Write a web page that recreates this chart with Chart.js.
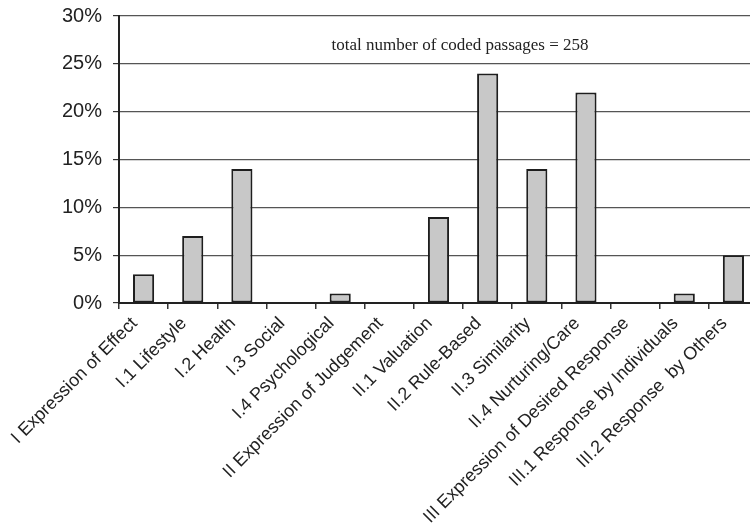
<!DOCTYPE html>
<html>
<head>
<meta charset="utf-8">
<script src="https://cdn.jsdelivr.net/npm/chart.js@4/dist/chart.umd.min.js"></script>
<style>
  html, body { margin: 0; padding: 0; background: #fff; }
  #frame { width: 750px; height: 525px; overflow: hidden; position: relative; }
  #box { width: 760px; height: 525px; position: absolute; left: 0; top: 0; }
</style>
</head>
<body>
<div id="frame"><div id="box"><canvas id="chart"></canvas></div></div>
<script>
// Categories of coded passages
const categories = [
  'I Expression of Effect',
  'I.1 Lifestyle',
  'I.2 Health',
  'I.3 Social',
  'I.4 Psychological',
  'II Expression of Judgement',
  'II.1 Valuation',
  'II.2 Rule-Based',
  'II.3 Similarity',
  'II.4 Nurturing/Care',
  'III Expression of Desired Response',
  'III.1 Response by Individuals',
  'III.2 Response  by Others'
];

// Share of coded passages per category, in percent
const shares = [3, 7, 14, 0, 1, 0, 9, 24, 14, 22, 0, 1, 5];

// Y axis tick values, in percent
const yTicks = [0, 5, 10, 15, 20, 25, 30];

const noteText = 'total number of coded passages = 258';

// Writes the note about the total count inside the plot area
const notePlugin = {
  id: 'note',
  afterDatasetsDraw(chart) {
    const { ctx, scales } = chart;
    const x = (scales.x.getPixelForValue(6) + scales.x.getPixelForValue(7)) / 2 - 3;
    const y = scales.y.getPixelForValue(26.9);
    ctx.save();
    ctx.font = '17px "Liberation Serif", "Times New Roman", serif';
    ctx.fillStyle = '#222';
    ctx.textAlign = 'center';
    ctx.textBaseline = 'middle';
    ctx.fillText(noteText, x, y);
    ctx.restore();
  }
};

new Chart(document.getElementById('chart'), {
  type: 'bar',
  data: {
    labels: categories,
    datasets: [{
      data: shares,
      backgroundColor: '#c8c8c8',
      borderColor: '#1e1e1e',
      borderWidth: 2,
      borderSkipped: false,
      categoryPercentage: 1.0,
      barPercentage: 0.43
    }]
  },
  options: {
    responsive: true,
    maintainAspectRatio: false,
    animation: false,
    layout: { padding: { top: 16, right: 2, left: 0, bottom: 0 } },
    plugins: {
      legend: { display: false },
      tooltip: { enabled: false }
    },
    scales: {
      x: {
        offset: true,
        grid: {
          offset: true,
          drawOnChartArea: false,
          drawTicks: true,
          tickLength: 6,
          tickColor: '#333',
          lineWidth: 1.5
        },
        border: { display: true, color: '#222', width: 2 },
        ticks: {
          autoSkip: false,
          maxRotation: 45,
          minRotation: 45,
          padding: 4,
          labelOffset: -9,
          color: '#222',
          font: { family: '"Liberation Sans", Arial, sans-serif', size: 18 }
        },
        afterFit(scale) { scale.height = 222; }
      },
      y: {
        min: 0,
        max: 30,
        afterBuildTicks(scale) { scale.ticks = yTicks.map(v => ({ value: v })); },
        grid: {
          color: '#555',
          lineWidth: 1.2,
          drawTicks: true,
          tickLength: 6,
          tickColor: '#333'
        },
        border: { display: true, color: '#222', width: 2 },
        ticks: {
          padding: 11,
          color: '#222',
          callback: v => v + '%',
          font: { family: '"Liberation Sans", Arial, sans-serif', size: 20 }
        },
        afterFit(scale) {
          scale.width = 119;
          scale.paddingTop = 0;
          scale.paddingBottom = 0;
        }
      }
    }
  },
  plugins: [notePlugin]
});
</script>
</body>
</html>
